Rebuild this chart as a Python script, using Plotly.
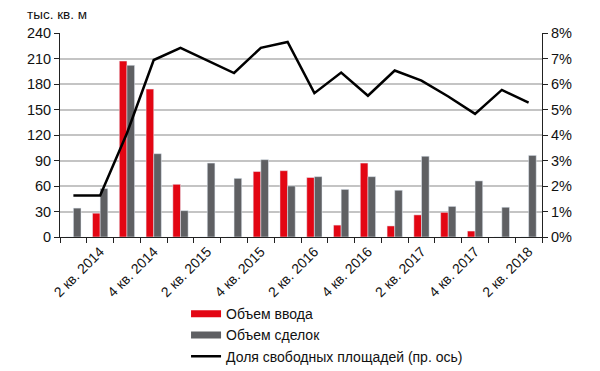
import plotly.graph_objects as go

categories = ["1 кв. 2014", "2 кв. 2014", "3 кв. 2014", "4 кв. 2014",
              "1 кв. 2015", "2 кв. 2015", "3 кв. 2015", "4 кв. 2015",
              "1 кв. 2016", "2 кв. 2016", "3 кв. 2016", "4 кв. 2016",
              "1 кв. 2017", "2 кв. 2017", "3 кв. 2017", "4 кв. 2017",
              "1 кв. 2018", "2 кв. 2018"]
vvod = [0, 28, 207, 174, 62, 0, 0, 77, 78, 70, 14, 87, 13, 26, 29, 7, 0, 0]
sdelki = [34, 57, 202, 98, 31, 87, 69, 91, 60, 71, 56, 71, 55, 95, 36, 66, 35, 96]
vacancy = [1.63, 1.63, 4.07, 6.94, 7.42, 6.92, 6.43, 7.42, 7.65, 5.64,
           6.45, 5.54, 6.53, 6.13, 5.51, 4.83, 5.77, 5.27]
left_ticks = [0, 30, 60, 90, 120, 150, 180, 210, 240]
right_ticks = [0, 1, 2, 3, 4, 5, 6, 7, 8]

names = ["Объем ввода", "Объем сделок", "Доля свободных площадей (пр. ось)"]
RED = "#E30613"
GRAY = "#5F6063"
FONT = "Liberation Sans, Arial, sans-serif"

x = list(range(len(categories)))
vac_frac = [v / 100 for v in vacancy]

fig = go.Figure()
fig.add_trace(go.Bar(x=x, y=vvod, name=names[0], marker_color=RED, showlegend=False))
fig.add_trace(go.Bar(x=x, y=sdelki, name=names[1], marker_color=GRAY, showlegend=False))
fig.add_trace(go.Scatter(x=x, y=vac_frac, name=names[2], mode="lines",
                         line=dict(color="black", width=2.5), yaxis="y2", showlegend=False))
# legend entries
fig.add_trace(go.Scatter(x=[None], y=[None], mode="lines", name=names[0],
                         line=dict(color=RED, width=7)))
fig.add_trace(go.Scatter(x=[None], y=[None], mode="lines", name=names[1],
                         line=dict(color=GRAY, width=7)))
fig.add_trace(go.Scatter(x=[None], y=[None], mode="lines", name=names[2],
                         line=dict(color="black", width=2.5)))

# the page body has an 8px default margin, so the figure is sized to fit inside the window
fig.update_layout(
    width=592, height=363,
    margin=dict(l=52.3, r=58.3, t=25.3, b=134.3, pad=0, autoexpand=False),
    paper_bgcolor="white", plot_bgcolor="white",
    font=dict(family=FONT, size=13, color="#111"),
    barmode="group", bargap=0.43, bargroupgap=0,
    xaxis=dict(
        range=[-0.5, len(categories) - 0.5], automargin=False,
        tickmode="array", tickvals=x[1::2], ticktext=categories[1::2],
        tickangle=-45, ticks="", showgrid=False, zeroline=False,
        showline=True, linecolor="#222", linewidth=1,
        tickfont=dict(size=14),
        minor=dict(tickmode="array", tickvals=[i - 0.5 for i in range(len(categories) + 1)],
                   ticks="outside", ticklen=5, tickcolor="#222", tickwidth=1, showgrid=False),
    ),
    yaxis=dict(
        range=[0, 240], tickmode="array", tickvals=left_ticks, automargin=False,
        showgrid=True, gridcolor="#C4C4C4", gridwidth=1.5,
        showline=True, linecolor="#222", linewidth=1,
        ticks="outside", ticklen=5, tickcolor="#222",
        zeroline=False, tickfont=dict(size=14.5),
    ),
    yaxis2=dict(
        range=[0, 0.08], overlaying="y", side="right", automargin=False,
        tickmode="array", tickvals=[t / 100 for t in right_ticks], tickformat=".0%",
        showgrid=False, showline=True, linecolor="#222", linewidth=1,
        ticks="outside", ticklen=5, tickcolor="#222",
        zeroline=False, tickfont=dict(size=14.5),
    ),
    legend=dict(
        x=0.2615, y=-0.30, xanchor="left", yanchor="top",
        orientation="v", traceorder="normal", tracegroupgap=0,
        itemwidth=30, font=dict(size=14), bgcolor="rgba(0,0,0,0)",
    ),
    annotations=[dict(
        text="тыс. кв. м", xref="paper", yref="paper",
        x=-0.0733, y=1.0924, xanchor="left", yanchor="middle",
        showarrow=False, font=dict(size=13.5),
    )],
)

fig.write_html("out.html")
